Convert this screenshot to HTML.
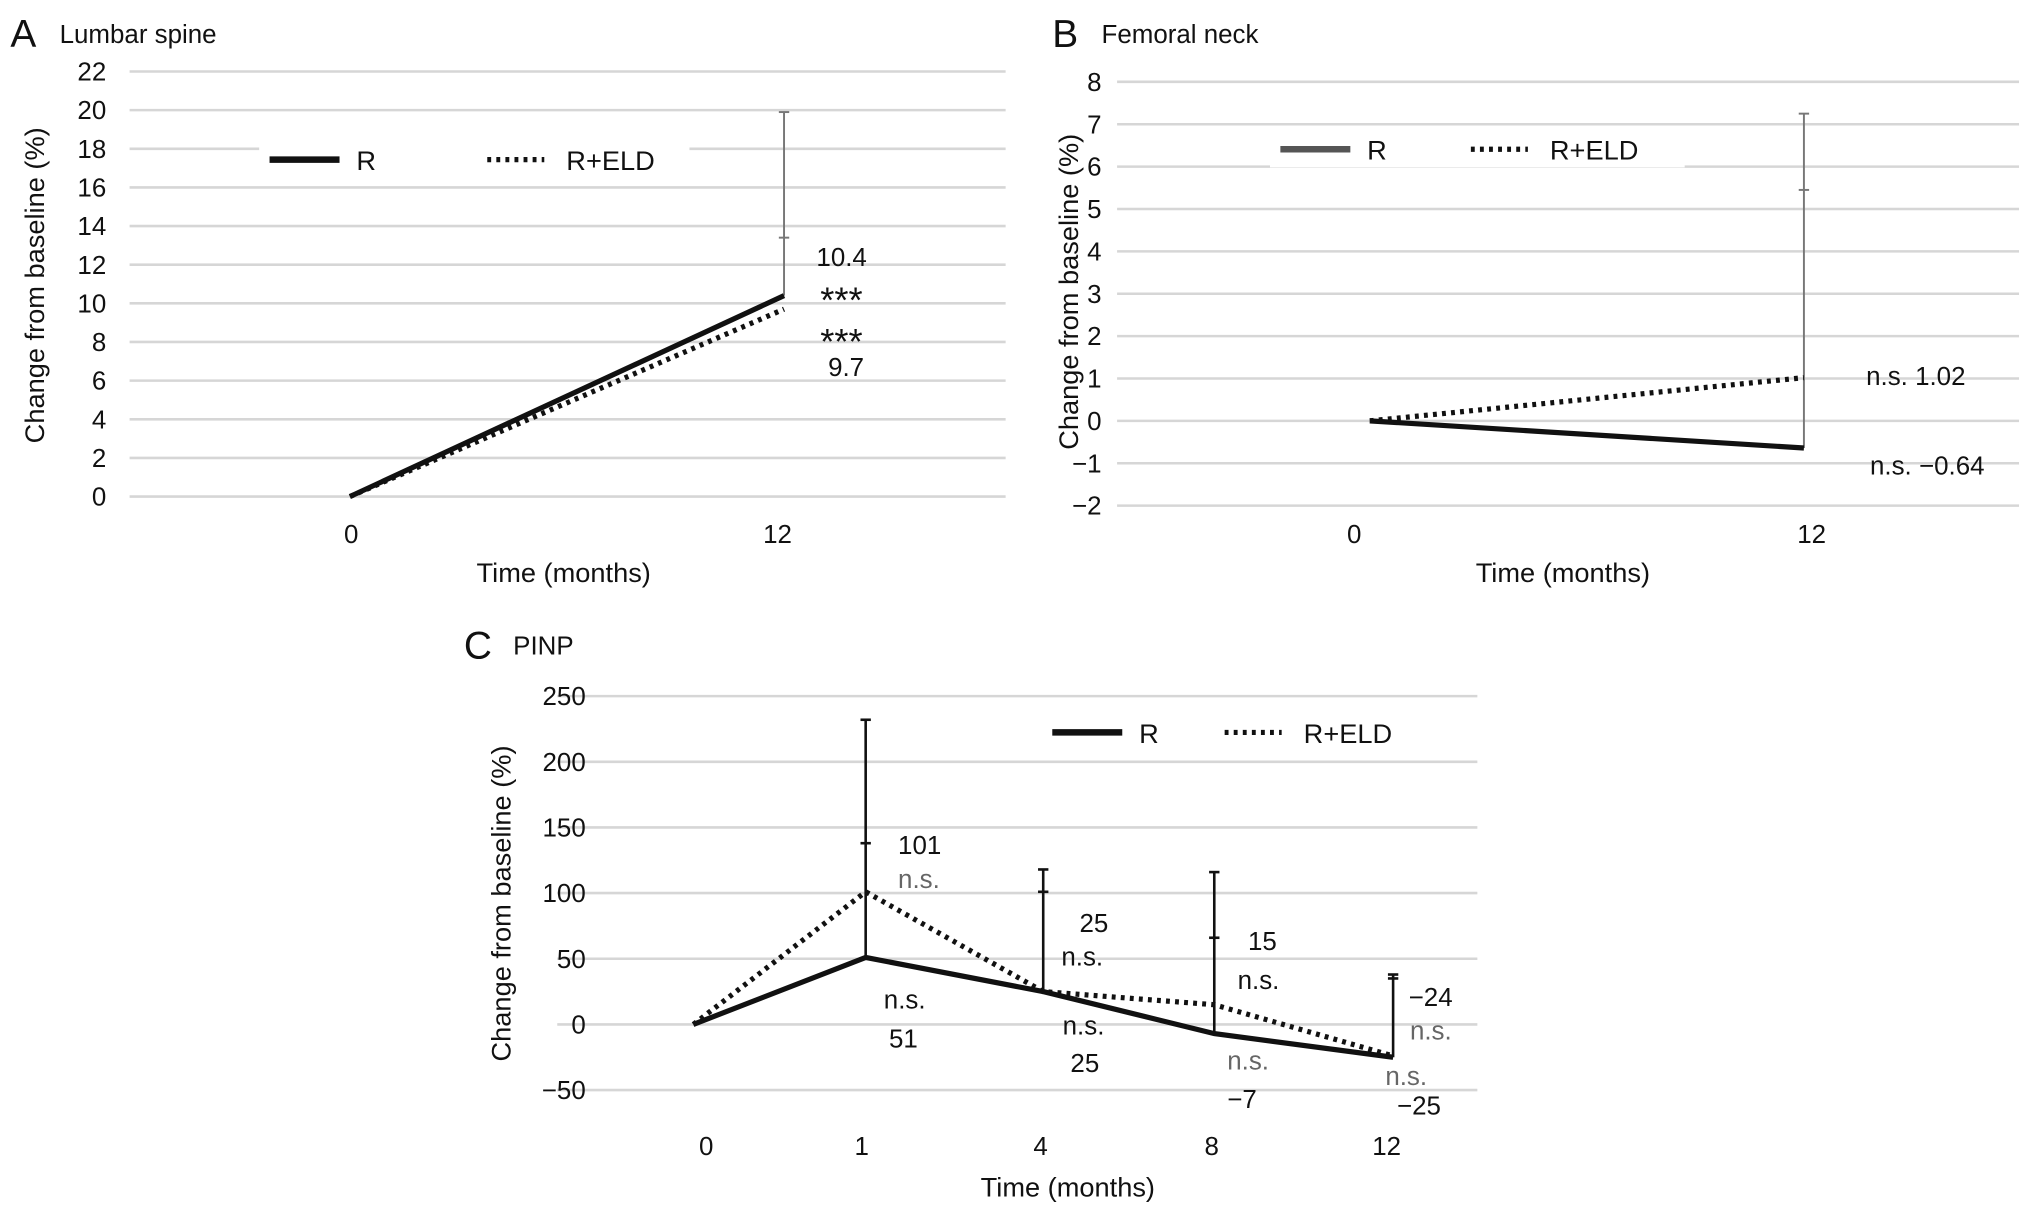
<!DOCTYPE html>
<html><head><meta charset="utf-8"><style>
html,body{margin:0;padding:0;background:#fff;}
svg{display:block;font-family:"Liberation Sans",sans-serif;}
</style></head><body>
<svg id="fig" width="2032" height="1216" viewBox="0 0 1568 938" xmlns="http://www.w3.org/2000/svg">
<rect width="1568" height="938" fill="#fff"/>
</svg>
<script>
// Panel A data
const aMonths = [0, 12];
const aR = [0, 10.4];
const aELD = [0, 9.7];
const aTicks = [0,2,4,6,8,10,12,14,16,18,20,22];
const aErrTop = [19.9];
const aErrTick = [13.4];
// Panel B data
const bMonths = [0, 12];
const bR = [0, -0.64];
const bELD = [0, 1.02];
const bTicks = [-2,-1,0,1,2,3,4,5,6,7,8];
const bErrTop = [7.25];
const bErrTick = [5.45];
// Panel C data
const cMonths = [0, 1, 4, 8, 12];
const cR = [0, 51, 25, -7, -25];
const cELD = [0, 101, 25, 15, -24];
const cTicks = [-50,0,50,100,150,200,250];
const cErrTop = [232, 118, 116, 38];
const cErrTick = [138, 101, 66, 35];

const NS='http://www.w3.org/2000/svg';
const svg=document.getElementById('fig');
function mk(tag,attrs,parent){const e=document.createElementNS(NS,tag);for(const k in attrs)e.setAttribute(k,attrs[k]);(parent||svg).appendChild(e);return e;}
function txt(x,y,s,size,anchor,fill,parent){const t=mk('text',{x:x,y:y,'font-size':size,'text-anchor':anchor||'start',fill:fill||'#111'},parent);t.textContent=s;return t;}

function panel(o){
  const g=mk('g',{});
  
  
  const ys=v=>o.y0+(v-o.vmin)/(o.vmax-o.vmin)*(o.y1-o.y0);
  const xs=i=>o.px[i];
  o.ticks.forEach(t=>{
    const l=mk('line',{x1:o.gx0,x2:o.gx1,y1:ys(t),y2:ys(t),stroke:'#d6d6d6','stroke-width':2},g);
    
    
    const tl=txt(o.tickX,ys(t)+7,String(t).replace('-','\u2212'),20,'end','#111',g);
    
    
  });
  o.months.forEach((m,i)=>{
    const tl=txt(o.lx[i],o.xLabY,String(m),20,'middle','#111',g);
    
    
  });
  mk('rect',{x:o.leg.x0,y:o.leg.y-14,width:o.leg.w,height:28,fill:'#fff'},g);
  o.errTop.forEach((v,k)=>{
    const i=k+1, x=xs(i);
    const eb=mk('line',{x1:x,x2:x,y1:ys(v),y2:ys(o.r[i]),stroke:o.errCol,'stroke-width':o.errW},g);
    
    
    mk('line',{x1:x-4,x2:x+4,y1:ys(v),y2:ys(v),stroke:o.errCol,'stroke-width':o.errW},g);
    mk('line',{x1:x-4,x2:x+4,y1:ys(o.errTick[k]),y2:ys(o.errTick[k]),stroke:o.errCol,'stroke-width':o.errW},g);
  });
  const pts=a=>a.map((v,i)=>xs(i)+','+ys(v)).join(' ');
  const pe=mk('polyline',{points:pts(o.eld),fill:'none',stroke:'#111','stroke-width':4,'stroke-dasharray':'3 4'},g);
  
  
  const pr=mk('polyline',{points:pts(o.r),fill:'none',stroke:'#111','stroke-width':4},g);
  
  
  const L=o.leg;
  const ls=mk('line',{x1:L.s0,x2:L.s0+54,y1:L.y,y2:L.y,stroke:L.solidCol,'stroke-width':5},g);
  
  
  const lr=txt(L.s0+67,L.y+8,'R',21,'start','#111',g);
  
  
  const ld=mk('line',{x1:L.d0,x2:L.d0+44,y1:L.y,y2:L.y,stroke:'#111','stroke-width':4,'stroke-dasharray':'3 4'},g);
  
  
  const le=txt(L.d0+61,L.y+8,'R+ELD',21,'start','#111',g);
  
  
  const yt=txt(0,0,'Change from baseline (%)',21,'middle','#111',g);
  yt.setAttribute('transform','translate('+o.yTitle[0]+','+o.yTitle[1]+') rotate(-90)');
  
  
  const xt=txt(o.xTitle[0],o.xTitle[1],'Time (months)',21,'middle','#111',g);
  
  
  const pl=txt(o.letter[0],o.letter[1],o.letter[2],30,'start','#111',g);
  
  
  const pt=txt(o.letter[0]+38,o.letter[1]-3,o.title,20,'start','#111',g);
  
  
  o.notes.forEach(n=>{
    const t=txt(n[0],n[1],n[2],n[4]||20,'start',n[3]||'#111',g);
    
    
  });
}

panel({name:'panel-a-lumbar-spine',months:aMonths,r:aR,eld:aELD,ticks:aTicks,errTop:aErrTop,errTick:aErrTick,
  vmin:0,vmax:22,y0:383,y1:55,gx0:100,gx1:776,tickX:82,px:[270,605],lx:[271,600],xLabY:419,
  errCol:'#777',errW:1.5,
  leg:{x0:200,w:332,y:123,s0:208,d0:376,solidCol:'#111'},
  yTitle:[34,220],xTitle:[435,449],letter:[8,36,'A'],title:'Lumbar spine',
  notes:[[630,205,'10.4'],[633,241,'***','#111',28],[633,273,'***','#111',28],[639,290,'9.7']]});

panel({name:'panel-b-femoral-neck',months:bMonths,r:bR,eld:bELD,ticks:bTicks,errTop:bErrTop,errTick:bErrTick,
  vmin:-2,vmax:8,y0:390,y1:63,gx0:862,gx1:1558,tickX:850,px:[1057,1392],lx:[1045,1398],xLabY:419,
  errCol:'#777',errW:1.5,
  leg:{x0:980,w:320,y:115,s0:988,d0:1135,solidCol:'#555'},
  yTitle:[832,225],xTitle:[1206,449],letter:[812,36,'B'],title:'Femoral neck',
  notes:[[1440,297,'n.s. 1.02'],[1443,366,'n.s. \u22120.64']]});

panel({name:'panel-c-pinp',months:cMonths,r:cR,eld:cELD,ticks:cTicks,errTop:cErrTop,errTick:cErrTick,
  vmin:-50,vmax:250,y0:841,y1:537,gx0:430,gx1:1140,tickX:452,px:[535,668,805,937,1075],lx:[545,665,803,935,1070],xLabY:891,
  errCol:'#111',errW:2,
  leg:{x0:805,w:300,y:565,s0:812,d0:945,solidCol:'#111'},
  yTitle:[394,697],xTitle:[824,923],letter:[358,508,'C'],title:'PINP',
  notes:[[693,659,'101'],[693,685,'n.s.','#666'],[833,719,'25'],[819,745,'n.s.'],[963,733,'15'],[955,763,'n.s.'],
    [682,778,'n.s.'],[686,808,'51'],[820,798,'n.s.'],[826,827,'25'],[947,825,'n.s.','#666'],[947,855,'\u22127'],
    [1087,776,'\u221224'],[1088,802,'n.s.','#666'],[1069,837,'n.s.','#666'],[1078,860,'\u221225']]});
</script>
</body></html>
